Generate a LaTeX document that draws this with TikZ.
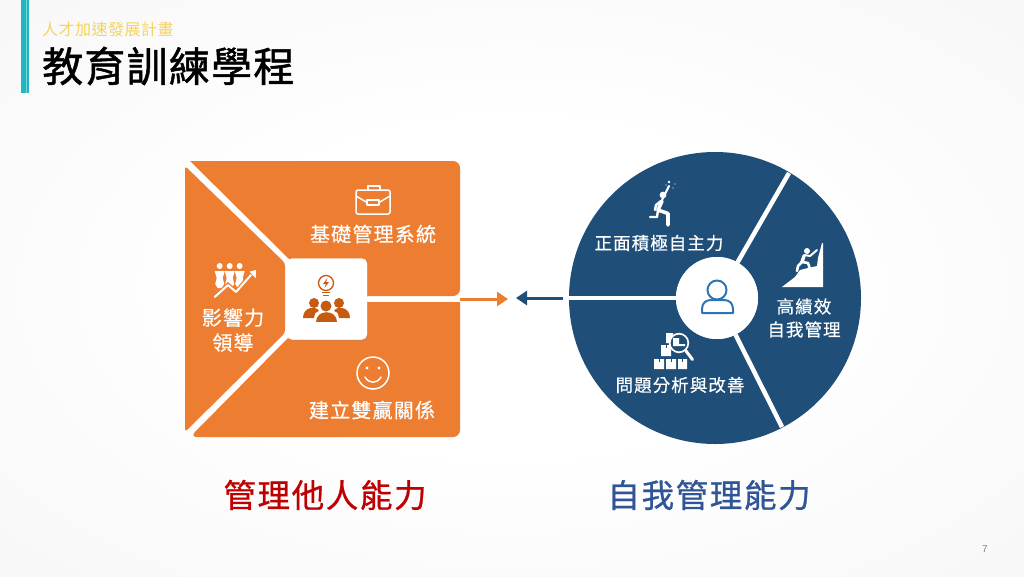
\documentclass[tikz,border=0pt]{standalone}
\usepackage{fontspec}
\setmainfont{Noto Sans CJK TC}
\setsansfont{Liberation Sans}
\newfontfamily\labelcjk[LetterSpace=6,FakeBold=0.4]{Noto Sans CJK TC}
\newfontfamily\subcjk[LetterSpace=3]{Noto Sans CJK TC}
\newfontfamily\bigcjk[LetterSpace=5,FakeBold=0.8]{Noto Sans CJK TC}
\newfontfamily\titlecjk[LetterSpace=3,FakeBold=1.2]{Noto Sans CJK TC}
\usetikzlibrary{positioning,shadows,arrows.meta}

\definecolor{mgmtorange}{HTML}{ED7D31}
\definecolor{darkorange}{HTML}{C55A11}
\definecolor{selfblue}{HTML}{1F4E79}
\definecolor{iconblue}{HTML}{2E75B6}
\definecolor{titleblue}{HTML}{2F5597}
\definecolor{titlered}{HTML}{C00000}
\definecolor{barteal}{HTML}{1FB6C3}
\definecolor{subyellow}{HTML}{F4D35E}
\definecolor{edgegray}{HTML}{EBEBEB}
\pgfdeclareradialshading{softback}{\pgfpoint{0bp}{0bp}}{color(0bp)=(white); color(14bp)=(white); color(71bp)=(edgegray); color(100bp)=(edgegray)}

\tikzset{
    label text/.style={text=white,font=\labelcjk\fontsize{20}{25}\selectfont,align=center,inner sep=0pt},
    pie text/.style={text=white,font=\labelcjk\fontsize{17.5}{23}\selectfont,align=center,inner sep=0pt},
    big text/.style={font=\bigcjk\fontsize{32.5}{36}\selectfont,inner sep=0pt},
    sep line/.style={draw=white,line width=4.5pt},
    link arrow/.style={line width=3pt,-{Triangle[length=11pt,width=14pt]}},
    white icon/.style={draw=white,line width=1.5pt,line cap=round,line join=round},
    hub icon/.style={fill=darkorange,draw=none},
}

\begin{document}
\begin{tikzpicture}[x=1pt,y=-1pt]
    \useasboundingbox (0,0) rectangle (1024,576);
    \fill[shading=softback] (0,0) rectangle (1024,576);

    % header
    \fill[barteal] (21,0) rectangle (29,93);
    \fill[barteal!60] (26,0) rectangle (27,93);
    \node[anchor=west,inner sep=0pt,text=subyellow,font=\subcjk\fontsize{16}{18}\selectfont] (subtitle) at (42,29) {人才加速發展計畫};
    \node[anchor=west,inner sep=0pt,font=\titlecjk\fontsize{41}{44}\selectfont] (title) at (42,66) {教育訓練學程};

    % orange square
    \fill[mgmtorange] (190,161) [rounded corners=7pt] -- (460,161) -- (460,296) [sharp corners] -- (330,296) -- (288,258) -- cycle;
    \fill[mgmtorange] (288,338) -- (330,302) -- (460,302) [rounded corners=7pt] -- (460,437) -- (190,437) [sharp corners] -- cycle;
    \fill[mgmtorange,rounded corners=3pt] (185,166) -- (285,263) -- (285,333) -- (185,432) -- cycle;
    \node[fill=white,rounded corners=5pt,minimum width=80pt,minimum height=81pt,drop shadow={shadow xshift=1pt,shadow yshift=-1pt,opacity=.25}] (hub) at (327,299) {};
    \coordinate (orangeout) at (460,299);
    \coordinate (orangetip) at (508,299);
    \draw[sep line,line width=4pt] (hub) -- (orangeout);
    \node[fill=white,rounded corners=5pt,minimum width=80pt,minimum height=81pt] at (hub) {};
    \draw[link arrow,mgmtorange] (orangeout) -- (orangetip);

    \node[label text] (basic)  at (373,234) {基礎管理系統};
    \node[label text] (lead)   at (233,330) {影響力\\領導};
    \node[label text] (winwin) at (372,410) {建立雙贏關係};

    % blue circle
    \node[circle,fill=selfblue,minimum size=292pt,inner sep=0pt] (selfpie) at (715,298) {};
    \coordinate (leftedge) at (569,298);
    \coordinate (topedge) at (789,173);
    \coordinate (botedge) at (782,427);
    \node[circle,fill=white,minimum size=82pt,inner sep=0pt] (selfhub) at (717,298) {};
    \draw[sep line] (selfhub) -- (leftedge);
    \draw[sep line] (selfhub) -- (topedge);
    \draw[sep line] (selfhub) -- (botedge);
    \node[circle,fill=white,minimum size=82pt,inner sep=0pt] at (selfhub) {};
    \coordinate (blueout) at (563,298);
    \coordinate (bluetip) at (516,298);
    \draw[link arrow,selfblue] (blueout) -- (bluetip);

    \node[pie text] (positive) at (659,243) {正面積極自主力};
    \node[pie text] (highperf) at (804,318) {高績效\\自我管理};
    \node[pie text] (problem)  at (680,385) {問題分析與改善};

    \node[big text,text=titlered]  (othercap) at (325,495) {管理他人能力};
    \node[big text,text=titleblue] (selfcap)  at (709,495) {自我管理能力};
    \node[inner sep=0pt,text=gray,font=\sffamily\fontsize{10}{12}\selectfont] (pageno) at (985,549) {7};

    % briefcase
    \draw[white icon,rounded corners=2pt] (356,190) rectangle (390,214);
    \draw[white icon] (368,190) -- (368,186) -- (380,186) -- (380,190);
    \draw[white icon] (356,196) -- (367,202.5) (379,202.5) -- (390,196);
    \draw[white icon,line width=1.2pt] (367,200) rectangle (379,205);

    % smiley
    \draw[white icon] (373,373) circle (16);
    \fill[white] (367,368) circle (1.7) (379,368) circle (1.7);
    \draw[white icon] (365,377) .. controls (369,384) and (377,384) .. (381,377);

    % people and growth
    \foreach \px in {219.7,229.7,239.7} {
        \fill[white] (\px,266) circle (3);
        \fill[white] (\px-5,271) -- (\px+5,271) -- (\px+3,278) -- (\px+4.5,284) -- (\px+2,288) -- (\px-2,288) -- (\px-4.5,284) -- (\px-3,278) -- cycle;
    }
    \draw[draw=mgmtorange,line width=4.5pt] (214,298) -- (228,285) -- (236,292) -- (251,275);
    \draw[white icon,line width=2pt] (214.7,297) -- (228,285) -- (236,292) -- (251,275);
    \fill[white] (256,270) -- (249.7,271.7) -- (255.7,278.3) -- cycle;

    % hub icon
    \draw[draw=darkorange,line width=1.3pt] (326,283) circle (7.5);
    \draw[draw=darkorange,line width=1.3pt] (322,292.5) -- (330,292.5) (323,295.5) -- (329,295.5);
    \fill[darkorange] (327.5,278) -- (323,284) -- (326,284) -- (324.5,288) -- (329,282) -- (326,282) -- cycle;
    \fill[hub icon] (314,303) circle (5) (339,303) circle (5) (326,306) circle (5.5);
    \fill[hub icon] (303,318) .. controls (303,306) and (317,306) .. (319,311) .. controls (315,312) and (314,315) .. (314,318) -- cycle;
    \fill[hub icon] (350,318) .. controls (350,306) and (336,306) .. (334,311) .. controls (338,312) and (339,315) .. (339,318) -- cycle;
    \fill[hub icon] (316,322) .. controls (316,309) and (337,309) .. (337,322) -- cycle;

    % person icon
    \draw[draw=iconblue,line width=2pt] (717,290) circle (9.5);
    \draw[draw=iconblue,line width=2pt,line join=round] (702,313) -- (733,313) -- (733,309) .. controls (733,303) and (729,300) .. (724,300) -- (711,300) .. controls (706,300) and (702,303) .. (702,309) -- cycle;

    % runner
    \fill[white] (663,195) circle (3.4);
    \fill[white] (669,182) circle (1.3) (666,185) circle (.6) (675,184) circle (.6) (673,188) circle (.6);
    \draw[white icon,line width=3.6pt] (662,201) -- (658,210) -- (668,213.5) -- (668,225);
    \draw[white icon,line width=2.2pt] (662,200) -- (669,186);
    \draw[white icon,line width=2.4pt] (661,201) -- (656,205) -- (655,210) (658,210) -- (657,217) -- (650,217);

    % climber
    \fill[white] (782,287) -- (795,277) -- (800,270) -- (808,268) -- (817,266) -- (818,258) -- (822,243) -- (823,243) -- (823,287) -- cycle;
    \fill[white] (807,251) circle (3);
    \draw[white icon,line width=3.4pt] (804,256) -- (802,262);
    \draw[white icon,line width=2pt] (804,255) -- (810,256) -- (817,250);
    \draw[white icon,line width=2.6pt] (802,262) -- (798,266) -- (797,271) (802,262) -- (808,263) -- (810,269);

    % boxes and magnifier
    \fill[white] (654,359) rectangle (664,369) (666,359) rectangle (676,369) (678,359) rectangle (687,369) (661,345) rectangle (671,356) (666,333) rectangle (673,343);
    \foreach \bx in {659,671,682} \fill[selfblue] (\bx-.5,359) rectangle (\bx+.5,362);
    \fill[selfblue] (665.5,345) rectangle (666.5,348);
    \draw[white,line width=1.7pt,fill=selfblue] (679,343) circle (9.3);
    \draw[white,line width=3pt,line cap=round] (686,351) -- (692.5,359.5);
    \fill[white] (673,338) -- (679,338) -- (679,344) -- (685,344) -- (685,346) -- (673,346) -- cycle;
\end{tikzpicture}
\end{document}
